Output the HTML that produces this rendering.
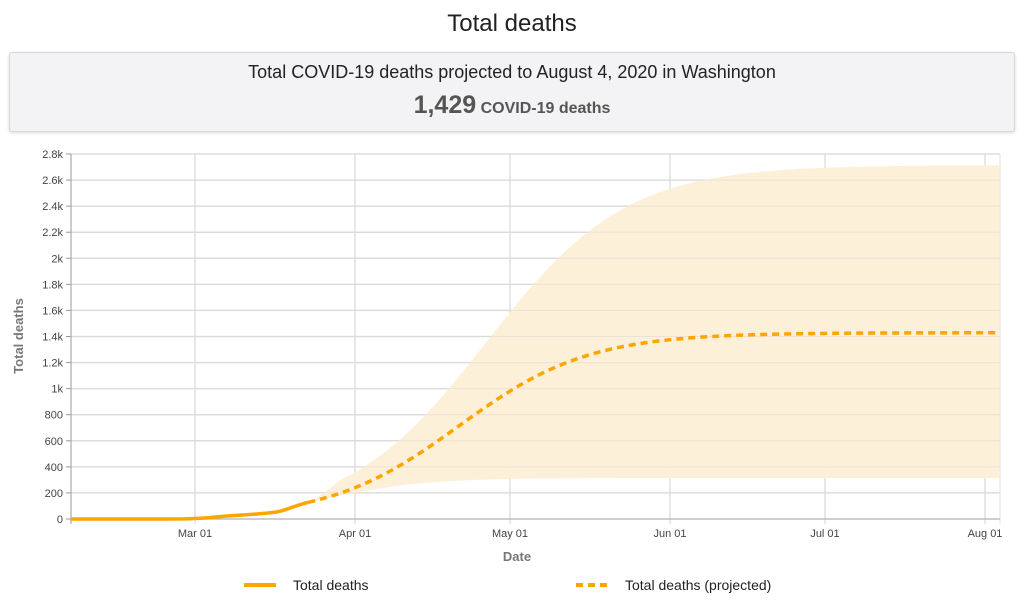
<!DOCTYPE html>
<html><head><meta charset="utf-8"><style>
body{margin:0;width:1024px;height:616px;background:#fff;font-family:"Liberation Sans",Arial,sans-serif;overflow:hidden;position:relative}
.t{position:absolute;top:10px;left:0;width:1024px;text-align:center;font-size:24px;color:#222}
.box{position:absolute;left:9px;top:52px;width:1004px;height:78px;background:#f3f3f5;border:1px solid #d8d8dc;border-radius:3px;box-shadow:0 1px 3px rgba(0,0,0,.15);text-align:center}
.l1{margin-top:9px;font-size:18px;color:#222}
.l2{margin-top:8px;color:#555;font-weight:bold;font-size:16px}
.l2 b{font-size:25px}
svg{position:absolute;left:0;top:0}
</style></head><body>
<div class="t">Total deaths</div>
<div class="box"><div class="l1">Total COVID-19 deaths projected to August 4, 2020 in Washington</div>
<div class="l2"><b>1,429</b> COVID-19 deaths</div></div>
<svg width="1024" height="616" id="s" font-family="Liberation Sans, Arial, sans-serif"></svg>
<script>
var s=document.getElementById('s'),h='';
var X0=71,px=5.16,Y0=519,py=365/2800;
function X(d){return X0+d*px}function Y(v){return Y0-v*py}
function lg(d,A,c,k){return A/(1+Math.exp(-(d-c)/k))}
for(var i=0;i<=14;i++){var y=Y(i*200);h+='<line x1="71" x2="1000" y1="'+y+'" y2="'+y+'" stroke="#e3e3e3" stroke-width="1.5"/>';
h+='<line x1="66" x2="71" y1="'+y+'" y2="'+y+'" stroke="#999"/>';
var lb=i==0?'0':(i*200<1000?i*200:(i*200/1000)+'k');
h+='<text x="63" y="'+(y+4)+'" font-size="11" fill="#444" text-anchor="end">'+lb+'</text>';}
var xs=[[195,'Mar 01'],[355,'Apr 01'],[510,'May 01'],[670,'Jun 01'],[825,'Jul 01'],[985,'Aug 01']];
xs.forEach(function(a){h+='<line x1="'+a[0]+'" x2="'+a[0]+'" y1="154" y2="524" stroke="#e0e0e0" stroke-width="1.5"/><text x="'+a[0]+'" y="537" font-size="11" fill="#444" text-anchor="middle">'+a[1]+'</text>';});
h+='<line x1="1000" x2="1000" y1="154" y2="524" stroke="#e0e0e0"/><line x1="71" x2="71" y1="154" y2="524" stroke="#999"/><line x1="71" x2="1000" y1="519" y2="519" stroke="#999"/>';
function M(d){return lg(d,1429,75.2,12.6)}
var up=[],lo=[];for(var d=46;d<=180;d+=1){var w=Math.min(1,(d-46)/6);
var u=M(d)+(Math.max(lg(d,2715,80.5,13.5),M(d))-M(d))*w;
var l=M(d)+(Math.min(lg(d,315,49.7,9.6),M(d))-M(d))*w;
up.push(X(d)+','+Y(u));lo.push(X(d)+','+Y(l));}
h+='<polygon points="'+up.join(' ')+' '+lo.reverse().join(' ')+'" fill="#fdefd6" opacity="0.95"/>';
for(var i=0;i<=14;i++){var y=Y(i*200);h+='<line x1="71" x2="1000" y1="'+y+'" y2="'+y+'" stroke="#ccc" stroke-opacity=".35"/>';}
var m=[];for(var d=46;d<=180;d++)m.push(X(d)+','+Y(M(d)));
h+='<polyline points="'+m.join(' ')+'" fill="none" stroke="#ffa500" stroke-width="3.5" stroke-dasharray="7,5"/>';
var act=[[0,0],[18,0],[22,1],[24,4],[26,8],[28,15],[30,22],[32,28],[34,33],[36,38],[38,45],[40,55],[41,65],[42,78],[43,92],[44,105],[45,118],[46,128]];
h+='<polyline points="'+act.map(function(p){return X(p[0])+','+Y(p[1])}).join(' ')+'" fill="none" stroke="#ffa500" stroke-width="3.5" stroke-linejoin="round"/>';
h+='<text transform="translate(23,336) rotate(-90)" font-size="13" font-weight="bold" fill="#777" text-anchor="middle">Total deaths</text>';
h+='<text x="517" y="561" font-size="13" font-weight="bold" fill="#777" text-anchor="middle">Date</text>';
h+='<line x1="244" x2="276" y1="585" y2="585" stroke="#ffa500" stroke-width="4"/><text x="293" y="590" font-size="14" fill="#222">Total deaths</text>';
h+='<line x1="576" x2="610" y1="585" y2="585" stroke="#ffa500" stroke-width="4" stroke-dasharray="7,5"/><text x="625" y="590" font-size="14" fill="#222">Total deaths (projected)</text>';
s.innerHTML=h;
</script>
</body></html>
